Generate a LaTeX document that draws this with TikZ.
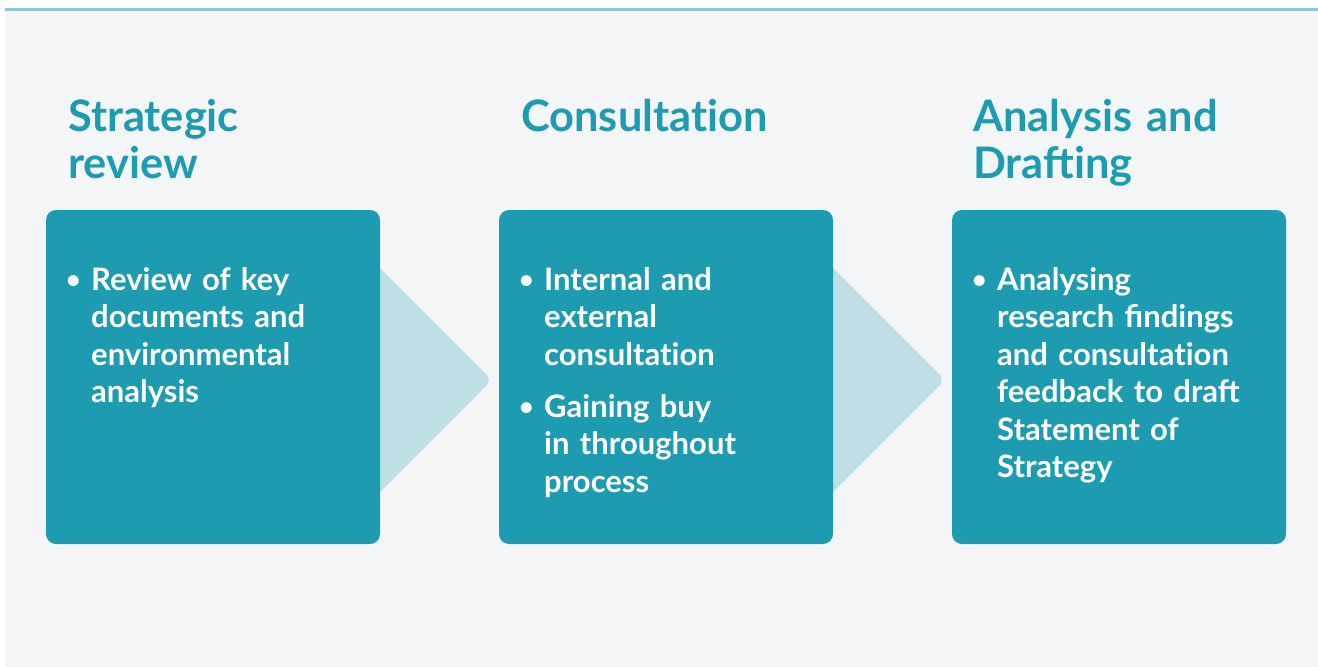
\documentclass[tikz,border=0pt]{standalone}
\usepackage{fontspec}
\setmainfont{Lato}[UprightFont=* Bold]
\definecolor{pagegrey}{HTML}{F4F5F7}
\definecolor{rulecol}{HTML}{92C5D2}
\definecolor{teal}{HTML}{1D9CB1}
\definecolor{chevroncol}{HTML}{BDDFE5}
% keep "t" and "i" apart (no ti ligature)
\newcommand\tI{t\kern0pt i}
\begin{document}
\begin{tikzpicture}[x=1pt,y=-1pt,
  stepbox/.style={fill=teal, rounded corners=10pt, minimum width=334pt, minimum height=334pt, inner sep=0pt, draw=none},
  heading/.style={anchor=base west, inner sep=0pt, text=teal, text width=330pt, align=left,
    font=\fontsize{43.4}{47}\selectfont},
  bul/.style={anchor=base west, inner sep=0pt, text=white, font=\fontsize{25}{30}\selectfont},
  body/.style={anchor=base west, inner sep=0pt, text=white, text width=250pt, align=left,
    font=\fontsize{31}{37.5}\selectfont},
  chevron/.style={fill=chevroncol}]
\useasboundingbox (0,0) rectangle (1318,667);
% page panel and top rule
\fill[pagegrey] (5,8) rectangle (1318,667);
\draw[rulecol, line width=3pt] (5,9) -- (1318,9);

% chevrons between the steps (partly hidden behind the boxes)
\foreach \dx in {0,453}{
  \fill[chevron, xshift=\dx] (360,248) [rounded corners=8pt] -- (492,380) [sharp corners] -- (360,512) -- cycle;
}

% step boxes
\node[stepbox] (b1) at (213,377) {};
\node[stepbox] (b2) at (666,377) {};
\node[stepbox] (b3) at (1119,377) {};

% headings
\node[heading] (h1) at (68,131) {Strategic\\review};
\node[heading] (h2) at (521,131) {Consulta\tI on};
\node[heading] (h3) at (973,131) {Analysis and\\Drafting};

% step 1
\node[bul] (d1) at (66,288) {•};
\node[body] (t1) at (91,290) {Review of key\\documents and\\environmental\\analysis};

% step 2
\node[bul] (d2) at (519,288) {•};
\node[body] (t2) at (544,290) {Internal and\\external\\consulta\tI on};
\node[bul] (d3) at (519,415) {•};
\node[body] (t3) at (544,417) {Gaining buy\\in throughout\\process};

% step 3
\node[bul] (d4) at (972,288) {•};
\node[body] (t4) at (997,290) {Analysing\\research findings\\and consulta\tI on\\feedback to draft\\Statement of\\Strategy};
\end{tikzpicture}
\end{document}
